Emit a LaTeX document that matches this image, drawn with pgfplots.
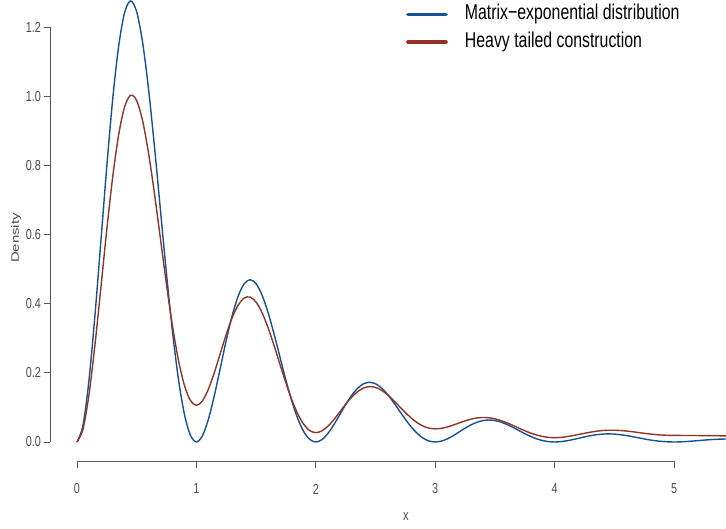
\documentclass[border=0pt]{standalone}
\usepackage{fontspec}
\setmainfont{Liberation Sans}
\usepackage{graphicx}
\usepackage{pgfplots}
\usepackage{pgfplotstable}
\pgfplotsset{compat=1.18}

\definecolor{meblue}{RGB}{22,80,150}
\definecolor{htred}{RGB}{145,52,38}
\definecolor{axgray}{RGB}{90,90,90}
\definecolor{lblgray}{RGB}{75,75,75}

% Matrix-exponential density
\pgfplotstableread{
x y
0.00 0
0.05 0.0477
0.10 0.1772
0.15 0.3638
0.20 0.5800
0.25 0.7985
0.30 0.9943
0.35 1.1472
0.40 1.2433
0.45 1.2755
0.50 1.2438
0.55 1.1541
0.60 1.0179
0.65 0.8499
0.70 0.6665
0.75 0.4843
0.80 0.3183
0.85 0.1806
0.90 0.0796
0.95 0.0194
1.00 0
1.05 0.0176
1.10 0.0652
1.15 0.1338
1.20 0.2134
1.25 0.2938
1.30 0.3658
1.35 0.4220
1.40 0.4574
1.45 0.4692
1.50 0.4576
1.55 0.4246
1.60 0.3745
1.65 0.3127
1.70 0.2452
1.75 0.1782
1.80 0.1171
1.85 0.0665
1.90 0.0293
1.95 0.0071
2.00 0
2.05 0.0065
2.10 0.0240
2.15 0.0492
2.20 0.0785
2.25 0.1081
2.30 0.1346
2.35 0.1553
2.40 0.1683
2.45 0.1726
2.50 0.1683
2.55 0.1562
2.60 0.1378
2.65 0.1150
2.70 0.0902
2.75 0.0656
2.80 0.0431
2.85 0.0245
2.90 0.0108
2.95 0.0026
3.00 0
3.05 0.0024
3.10 0.0088
3.15 0.0181
3.20 0.0289
3.25 0.0398
3.30 0.0495
3.35 0.0571
3.40 0.0619
3.45 0.0635
3.50 0.0619
3.55 0.0575
3.60 0.0507
3.65 0.0423
3.70 0.0332
3.75 0.0241
3.80 0.0159
3.85 0.0090
3.90 0.0040
3.95 0.0010
4.00 0
4.05 0.0009
4.10 0.0033
4.15 0.0067
4.20 0.0106
4.25 0.0146
4.30 0.0182
4.35 0.0210
4.40 0.0228
4.45 0.0234
4.50 0.0228
4.55 0.0211
4.60 0.0186
4.65 0.0156
4.70 0.0122
4.75 0.0089
4.80 0.0058
4.85 0.0033
4.90 0.0015
4.95 0.0004
5.00 0
5.05 0.0003
5.10 0.0012
5.15 0.0025
5.20 0.0039
5.25 0.0054
5.30 0.0067
5.35 0.0077
5.40 0.0084
5.45 0.0086
}\medata

% Heavy tailed construction
\pgfplotstableread{
x y
0.00 0
0.05 0.0365
0.10 0.1357
0.15 0.2790
0.20 0.4457
0.25 0.6152
0.30 0.7686
0.35 0.8905
0.40 0.9703
0.45 1.0026
0.50 0.9871
0.55 0.9281
0.60 0.8338
0.65 0.7153
0.70 0.5847
0.75 0.4542
0.80 0.3349
0.85 0.2359
0.90 0.1632
0.95 0.1199
1.00 0.1060
1.05 0.1185
1.10 0.1522
1.15 0.2005
1.20 0.2559
1.25 0.3112
1.30 0.3597
1.35 0.3959
1.40 0.4163
1.45 0.4190
1.50 0.4042
1.55 0.3737
1.60 0.3307
1.65 0.2793
1.70 0.2242
1.75 0.1701
1.80 0.1210
1.85 0.0804
1.90 0.0506
1.95 0.0328
2.00 0.0270
2.05 0.0319
2.10 0.0451
2.15 0.0642
2.20 0.0865
2.25 0.1090
2.30 0.1294
2.35 0.1455
2.40 0.1560
2.45 0.1601
2.50 0.1577
2.55 0.1496
2.60 0.1367
2.65 0.1206
2.70 0.1028
2.75 0.0852
2.80 0.0690
2.85 0.0556
2.90 0.0457
2.95 0.0399
3.00 0.0380
3.05 0.0394
3.10 0.0433
3.15 0.0488
3.20 0.0550
3.25 0.0611
3.30 0.0661
3.35 0.0695
3.40 0.0709
3.45 0.0700
3.50 0.0670
3.55 0.0620
3.60 0.0555
3.65 0.0480
3.70 0.0401
3.75 0.0325
3.80 0.0256
3.85 0.0200
3.90 0.0158
3.95 0.0133
4.00 0.0125
4.05 0.0132
4.10 0.0153
4.15 0.0182
4.20 0.0216
4.25 0.0252
4.30 0.0284
4.35 0.0311
4.40 0.0330
4.45 0.0339
4.50 0.0340
4.55 0.0332
4.60 0.0317
4.65 0.0297
4.70 0.0274
4.75 0.0251
4.80 0.0230
4.85 0.0213
4.90 0.0200
4.95 0.0193
5.00 0.0190
5.10 0.0188
5.20 0.0186
5.30 0.0182
5.45 0.0176
}\htdata

\begin{document}
\begin{tikzpicture}
\begin{axis}[
    scale only axis,
    clip=false,
    width=676bp, height=461bp,
    xmin=-0.226, xmax=5.435,
    ymin=-0.055, ymax=1.278,
    axis line style={draw=none},
    tick style={draw=none},
    xtick={0,1,2,3,4,5},
    ytick={0,0.2,0.4,0.6,0.8,1.0,1.2},
    /pgf/number format/assume math mode=true,
    yticklabel style={/pgf/number format/.cd, fixed, fixed zerofill, precision=1, /tikz/.cd,
        anchor=east, inner sep=0pt, xshift=-9bp, xscale=0.75,
        font=\fontsize{14.5}{16}\selectfont, text=lblgray},
    xticklabel style={anchor=center, inner sep=0pt, yshift=-28bp, xscale=0.75,
        font=\fontsize{14.5}{16}\selectfont, text=lblgray},
    xlabel={x},
    xlabel style={at={(0.5266,0)}, anchor=center, yshift=-56bp, xscale=0.75,
        font=\fontsize{15}{17}\selectfont, text=lblgray},
    legend style={draw=none, fill=none, at={(0.5266,0.9905)}, anchor=north west,
        inner sep=0pt, row sep=7.5bp,
        nodes={inner sep=0pt, anchor=west, text height=15bp, text depth=5bp},
        font=\fontsize{21.5}{24}\selectfont},
    legend cell align=left,
    legend image code/.code={
        \draw[line width=3.6bp, line cap=round] (1bp,0bp) -- (39bp,0bp);
        \path[draw=none] (0bp,0bp) -- (58bp,0bp);
    },
]
\addplot[meblue, line width=1.4bp, smooth] table {\medata};
\addlegendentry{\scalebox{0.74}[1]{Matrix−exponential distribution}}
\addplot[htred, line width=1.4bp, smooth] table {\htdata};
\addlegendentry{\scalebox{0.74}[1]{Heavy tailed construction}}

% R-style detached axes
\draw[axgray, line width=0.9bp] (axis cs:0,-0.055) -- (axis cs:5,-0.055);
\pgfplotsinvokeforeach{0,1,2,3,4,5}{
    \draw[axgray, line width=0.9bp] (axis cs:#1,-0.055) -- ++(0bp,-7bp);
}
\draw[axgray, line width=0.9bp] (axis cs:-0.226,0) -- (axis cs:-0.226,1.2);
\pgfplotsinvokeforeach{0,0.2,0.4,0.6,0.8,1.0,1.2}{
    \draw[axgray, line width=0.9bp] (axis cs:-0.226,#1) -- ++(-6bp,0bp);
}
\node[xshift=-34bp, xscale=0.72, rotate=90, font=\fontsize{15}{17}\selectfont, text=lblgray]
    at (rel axis cs:0,0.4837) {Density};
\end{axis}
\pgfresetboundingbox
\path[use as bounding box] (-50bp,-68bp) rectangle (676bp,461bp);
\end{tikzpicture}
\end{document}
